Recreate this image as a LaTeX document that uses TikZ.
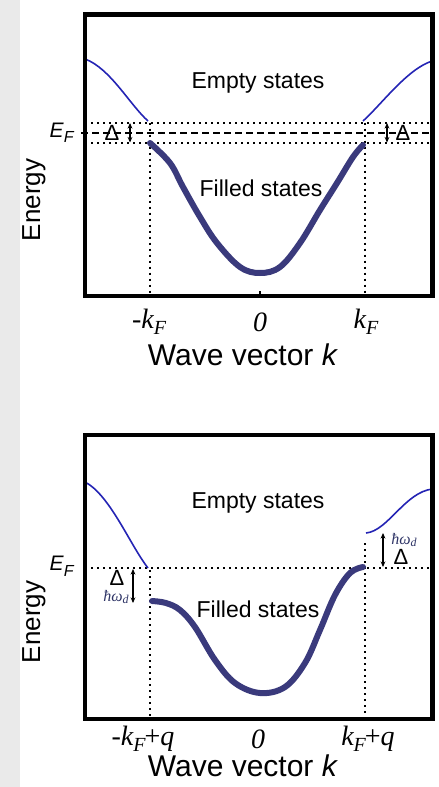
\documentclass[tikz,border=0pt]{standalone}
\usepackage{fontspec}
\setmainfont{Liberation Sans}
\newfontfamily\tnr{Liberation Serif}
\usetikzlibrary{arrows.meta}
\definecolor{BandBlue}{HTML}{2424B4}
\definecolor{FillNavy}{HTML}{3A3A7C}
\definecolor{StripGray}{HTML}{EAEAEA}
\definecolor{OmegaNavy}{HTML}{2E3466}
\newcommand{\kfermi}{{\tnr\itshape k}\raisebox{-0.5ex}{\tnr\itshape\fontsize{10}{10}\selectfont F}}
\newcommand{\efermi}{\textit{E}\raisebox{-0.5ex}{\fontsize{8}{8}\selectfont\textit{F}}}
\newcommand{\hwd}{{\color{OmegaNavy}\tnr\itshape\fontsize{8}{8}\selectfont ħω\raisebox{-0.4ex}{\fontsize{6}{6}\selectfont d}}}

\begin{document}
\begin{tikzpicture}[x=0.5pt,y=-0.5pt,>=Stealth,
    frame/.style={line width=2.2pt},
    emptyband/.style={BandBlue,line width=0.8pt},
    filledband/.style={FillNavy,line width=3pt,line cap=round},
    guide/.style={line width=1pt,dash pattern=on 1.2pt off 1.8pt},
    fermidash/.style={line width=0.8pt,dash pattern=on 3.5pt off 2pt},
    gaparrow/.style={{Stealth[length=2.8pt,width=2.4pt]}-{Stealth[length=2.8pt,width=2.4pt]},line width=0.6pt},
    statelabel/.style={font=\fontsize{11.5}{12}\selectfont},
    energylabel/.style={font=\fontsize{13}{14}\selectfont,rotate=90},
    axislabel/.style={font=\fontsize{15}{16}\selectfont,inner sep=0pt},
    ticklabel/.style={font=\tnr\fontsize{14}{15}\selectfont,inner sep=0pt},
    fermilabel/.style={font=\fontsize{10.5}{11}\selectfont},
    gaplabel/.style={font=\fontsize{11}{12}\selectfont,inner sep=0pt}]
  \fill[StripGray] (0,0) rectangle (20,787);
  \useasboundingbox (0,0) rectangle (439,787);

  % upper panel: gap 2Delta at the Fermi level
  \coordinate (tl1) at (85,14.5);
  \coordinate (br1) at (432.5,296);
  \draw[guide] (85,122.5) -- (432.5,122.5);
  \draw[guide] (85,143) -- (432.5,143);
  \draw[guide] (150,122.5) -- (150,296);
  \draw[guide] (365,122.5) -- (365,296);
  \node[fermilabel] (ef1) at (62,133) {\efermi};
  \draw[fermidash] (ef1.east) -- (432.5,133);
  \draw[emptyband] (85,59) .. controls (110,68) and (130,105) .. (148,121);
  \draw[emptyband] (363,121) .. controls (381,105) and (408,68) .. (432.5,61);
  \draw[filledband] plot[smooth,tension=0.6] coordinates {(150,143) (170,163) (183,187) (200,217) (217,243)
    (240,267) (260,273) (280,267) (300,243) (320,210) (337,183) (353,157) (363,145)};
  \node[gaplabel] (gapL1) at (112,133) {Δ};
  \coordinate (arrLa1) at (130,123);
  \coordinate (arrLb1) at (130,142.5);
  \draw[gaparrow] (arrLa1) -- (arrLb1);
  \node[gaplabel] (gapR1) at (403,133) {Δ};
  \coordinate (arrRa1) at (387,123);
  \coordinate (arrRb1) at (387,142.5);
  \draw[gaparrow] (arrRa1) -- (arrRb1);
  \node[statelabel] (empty1) at (258,83) {Empty states};
  \node[statelabel] (filled1) at (261,188) {Filled states};
  \node[energylabel] (energy1) at (34,200) {Energy};
  \draw[line width=0.6pt] (260,296) -- (260,291);
  \draw[frame] (tl1) rectangle (br1);
  \node[ticklabel] (mkf1) at (149,322) {-\kfermi};
  \node[ticklabel] (zero1) at (260,322) {\itshape 0};
  \node[ticklabel] (kf1) at (366,322) {\kfermi};
  \node[axislabel] (wave1) at (243,355) {Wave vector \textit{k}};

  % lower panel: gap shifted by q
  \coordinate (tl2) at (85,435);
  \coordinate (br2) at (432.5,719);
  \node[fermilabel] (ef2) at (62,566) {\efermi};
  \draw[guide] (85,568) -- (432.5,568);
  \draw[guide] (150,570) -- (150,719);
  \draw[guide] (365,543) -- (365,719);
  \draw[emptyband] (85,482) .. controls (110,495) and (130,545) .. (148,568);
  \draw[emptyband] (366,533) .. controls (388,531) and (405,492) .. (432.5,489);
  \draw[filledband] plot[smooth,tension=0.6] coordinates {(152,601) (166,603) (180,610) (195,627) (215,660)
    (235,683) (260,693) (285,687) (305,663) (320,630) (335,595) (350,573) (363,567)};
  \node[gaplabel] (gapL2) at (117,578) {Δ};
  \node[inner sep=0pt] (omegaL2) at (116,597) {\hwd};
  \coordinate (arrLa2) at (133,569);
  \coordinate (arrLb2) at (133,603);
  \draw[gaparrow] (arrLa2) -- (arrLb2);
  \node[inner sep=0pt] (omegaR2) at (404,540) {\hwd};
  \node[gaplabel] (gapR2) at (401,557) {Δ};
  \coordinate (arrRa2) at (383,533);
  \coordinate (arrRb2) at (383,567);
  \draw[gaparrow] (arrRa2) -- (arrRb2);
  \node[statelabel] (empty2) at (258,503) {Empty states};
  \node[statelabel] (filled2) at (258,609) {Filled states};
  \node[energylabel] (energy2) at (34,622) {Energy};
  \draw[frame] (tl2) rectangle (br2);
  \node[ticklabel] (mkf2) at (143,739) {-\kfermi\kern-0.5pt{\upshape+}\textit{q}};
  \node[ticklabel] (zero2) at (258,739) {\itshape 0};
  \node[ticklabel] (kf2) at (368,739) {\kfermi\kern-0.5pt{\upshape+}\textit{q}};
  \node[axislabel] (wave2) at (243,766) {Wave vector \textit{k}};
\end{tikzpicture}
\end{document}
